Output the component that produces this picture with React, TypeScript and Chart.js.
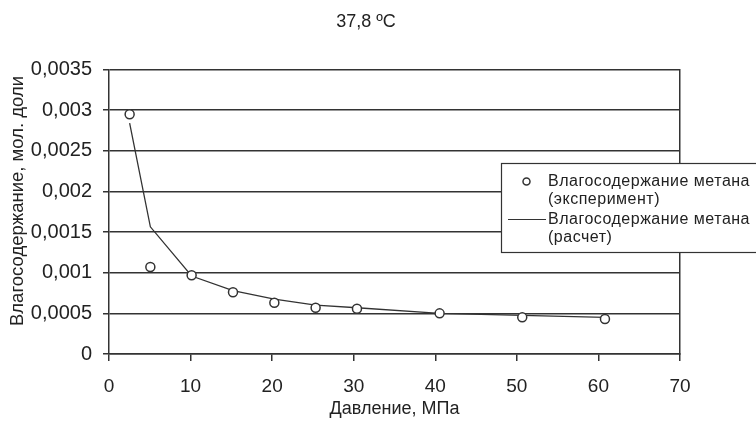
import React, { useEffect, useRef } from "react";
import { Chart, registerables } from "chart.js";

Chart.register(...registerables);

// Pressure, MPa
const pressureExp = [2.53, 5.07, 10.13, 15.2, 20.27, 25.33, 30.4, 40.53, 50.66, 60.8];
// Water content of methane, mole fraction (experiment)
const waterExp = [0.00295, 0.00107, 0.00097, 0.00076, 0.00063, 0.00057, 0.000557, 0.0005, 0.000451, 0.00043];
// Calculated curve
const pressureCalc = [2.53, 5.07, 10.13, 15.2, 20.27, 25.33, 30.4, 40.53, 50.66, 60.8];
const waterCalc = [0.00284, 0.001565, 0.00096, 0.00078, 0.000676, 0.000602, 0.000569, 0.0005, 0.000476, 0.000451];

const titleText = "37,8 ºC";
const xTitle = "Давление, МПа";
const yTitle = "Влагосодержание, мол. доли";
const legendLabels = [
  ["Влагосодержание метана", "(эксперимент)"],
  ["Влагосодержание метана", "(расчет)"],
];

const FONT = "'Liberation Sans', Arial, sans-serif";
const INK = "#222";
const LINE = "#333";

const fmt = (v: number) =>
  Number(v).toFixed(4).replace(/0+$/, "").replace(/\.$/, "").replace(".", ",");

const yTitlePlugin = {
  id: "yTitle",
  afterDraw(chart: any) {
    const ctx = chart.ctx;
    ctx.save();
    ctx.translate(18, 201);
    ctx.rotate(-Math.PI / 2);
    ctx.font = `18.5px ${FONT}`;
    ctx.fillStyle = INK;
    ctx.textAlign = "center";
    ctx.textBaseline = "middle";
    ctx.fillText(yTitle, 0, 0);
    ctx.restore();
  },
};

const legendPlugin = {
  id: "customLegend",
  afterDraw(chart: any) {
    const ctx = chart.ctx;
    ctx.save();
    const bx = 501, by = 163, bw = 300, bh = 89;
    ctx.fillStyle = "#fff";
    ctx.fillRect(bx, by, bw, bh);
    ctx.strokeStyle = LINE;
    ctx.lineWidth = 1.2;
    ctx.strokeRect(bx + 0.5, by + 0.5, bw, bh);
    ctx.font = `16px ${FONT}`;
    (ctx as any).letterSpacing = "0.5px";
    ctx.fillStyle = INK;
    ctx.textBaseline = "middle";
    ctx.textAlign = "left";
    const tx = 548;
    ctx.beginPath();
    ctx.arc(526.5, 181.5, 3.5, 0, Math.PI * 2);
    ctx.fillStyle = "#fff";
    ctx.fill();
    ctx.lineWidth = 1.5;
    ctx.strokeStyle = LINE;
    ctx.stroke();
    ctx.fillStyle = INK;
    ctx.fillText(legendLabels[0][0], tx, 181.5);
    ctx.fillText(legendLabels[0][1], tx, 200);
    ctx.beginPath();
    ctx.moveTo(508, 219.5);
    ctx.lineTo(546, 219.5);
    ctx.lineWidth = 1.2;
    ctx.stroke();
    ctx.fillText(legendLabels[1][0], tx, 219.5);
    ctx.fillText(legendLabels[1][1], tx, 238);
    ctx.restore();
  },
};

export default function App() {
  const ref = useRef<HTMLCanvasElement>(null);
  useEffect(() => {
    if (!ref.current) return;
    const chart = new Chart(ref.current, {
      type: "scatter",
      data: {
        datasets: [
          {
            label: legendLabels[0].join(" "),
            data: pressureExp.map((x, i) => ({ x, y: waterExp[i] })),
            showLine: false,
            pointStyle: "circle",
            pointRadius: 4.5,
            pointBorderWidth: 1.5,
            pointBackgroundColor: "#fff",
            pointBorderColor: LINE,
          },
          {
            label: legendLabels[1].join(" "),
            data: pressureCalc.map((x, i) => ({ x, y: waterCalc[i] })),
            showLine: true,
            pointRadius: 0,
            borderColor: LINE,
            borderWidth: 1.3,
            tension: 0,
          },
        ],
      },
      options: {
        responsive: false,
        animation: false,
        layout: { padding: { left: 0, right: 24, top: 0, bottom: 0 } },
        plugins: {
          legend: { display: false },
          tooltip: { enabled: false },
          title: {
            display: true,
            text: titleText,
            color: INK,
            font: { family: FONT, size: 18, weight: "normal" },
            padding: { top: 11, bottom: 37 },
          },
        },
        scales: {
          x: {
            type: "linear",
            min: 0,
            max: 70,
            ticks: {
              stepSize: 10,
              color: INK,
              font: { family: FONT, size: 19 },
              padding: 14,
            },
            grid: { drawOnChartArea: false, drawTicks: true, tickLength: 7, color: LINE, lineWidth: 1.5 },
            border: { display: true, color: LINE, width: 1.5 },
            title: {
              display: true,
              text: xTitle,
              color: INK,
              font: { family: FONT, size: 18 },
              padding: 6,
            },
            afterFit: (s: any) => {
              s.height = 72;
            },
          },
          y: {
            type: "linear",
            min: 0,
            max: 0.0035,
            ticks: {
              stepSize: 0.0005,
              color: INK,
              font: { family: FONT, size: 20 },
              padding: 11,
              callback: (v: any) => fmt(Number(v)),
            },
            grid: { color: LINE, lineWidth: 1.5, tickLength: 6 },
            border: { display: true, color: LINE, width: 1.5 },
            afterFit: (s: any) => {
              s.width = 109;
            },
          },
          y2: {
            type: "linear",
            position: "right",
            display: true,
            ticks: { display: false },
            grid: { drawOnChartArea: false, drawTicks: false },
            border: { display: true, color: LINE, width: 1.5 },
            afterFit: (s: any) => {
              s.width = 52;
            },
          },
        },
      },
      plugins: [yTitlePlugin, legendPlugin],
    });
    return () => chart.destroy();
  }, []);
  return (
    <div style={{ position: "fixed", left: 0, top: 0, width: 756, height: 426, background: "#fff" }}>
      <canvas ref={ref} width={756} height={426} />
    </div>
  );
}
